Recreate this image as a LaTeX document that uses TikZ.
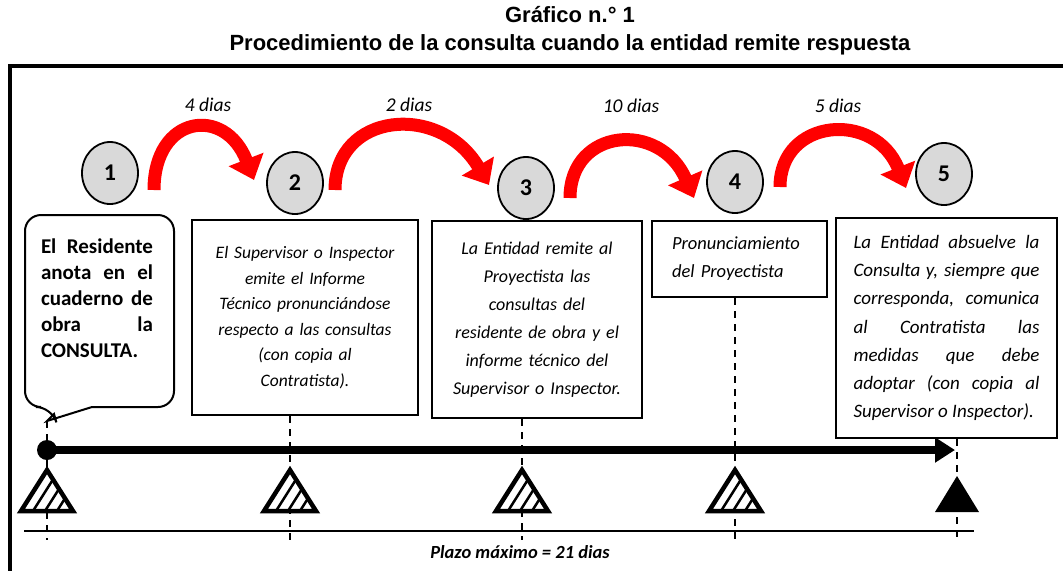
\documentclass[tikz,border=0pt]{standalone}
\usepackage{fontspec}
\setmainfont{Carlito}
\newfontfamily\titlefont{Liberation Sans}
\usetikzlibrary{arrows.meta,shapes.geometric}
\definecolor{stepgray}{HTML}{D9D9D9}
\definecolor{dayred}{HTML}{FF0000}
\hyphenpenalty=10000
\exhyphenpenalty=10000

\begin{document}
\begin{tikzpicture}[x=1pt, y=-1pt, line join=miter,
    stepnode/.style={ellipse, draw=black, line width=1.8pt, fill=stepgray, minimum width=56pt, minimum height=62pt, inner sep=0pt, font=\fontsize{24}{28}\selectfont\bfseries},
    daylabel/.style={font=\fontsize{19.5}{22}\selectfont\itshape},
    dayarrow/.style={draw=dayred, line width=13pt, -{Triangle[length=22pt, width=36pt]}},
    guide/.style={draw=black, line width=2pt, dash pattern=on 7pt off 6pt}]
            \useasboundingbox (0,0) rectangle (1063,571);
            \draw[line width=4pt] (1063,66) -- (10,66) -- (10,571);
            \begin{scope}[every node/.style={anchor=base, font=\titlefont\fontsize{22}{26}\selectfont\bfseries}]
            \node (title1) at (570,22) {Gráfico n.° 1};
            \node (title2) at (570,50) {Procedimiento de la consulta cuando la entidad remite respuesta};
            \end{scope}
            \begin{scope}[every node/.style={stepnode}]
            \node (c1) at (110,173) {1};
            \node (c2) at (295,183) {2};
            \node (c3) at (526,188) {3};
            \node (c4) at (735,182) {4};
            \node (c5) at (944,174) {5};
            \end{scope}
            \begin{scope}[every node/.style={daylabel}]
            \node (d1) at (208,105) {4 dias};
            \node (d2) at (409,105) {2 dias};
            \node (d3) at (631,106) {10 dias};
            \node (d4) at (838,106) {5 dias};
            \end{scope}
            \coordinate (t1) at (154,190); \coordinate (h1) at (254,180);
            \coordinate (t2) at (335,190); \coordinate (h2) at (489,185);
            \coordinate (t3) at (570,198); \coordinate (h3) at (694,198);
            \coordinate (t4) at (780,187); \coordinate (h4) at (906,188);
            \draw[dayarrow] (t1) .. controls (154,115) and (225,105) .. (h1);
            \draw[dayarrow] (t2) .. controls (335,112) and (440,102) .. (h2);
            \draw[dayarrow] (t3) .. controls (570,128) and (660,120) .. (h3);
            \draw[dayarrow] (t4) .. controls (780,118) and (875,110) .. (h4);
            \coordinate (tip) at (47,421);
            \draw[line width=2pt, rounded corners=16pt] (92,407) -- (174,407) -- (174,215) -- (25,215) -- (25,407) -- (52,407) [sharp corners] -- (54,414) -- (tip) -- cycle;
            \node[text width=112pt, align=justify, inner sep=0pt, font=\fontsize{21}{26}\selectfont\bfseries] (bub) at (97,298) {El Residente\linebreak anota en el\linebreak cuaderno de\linebreak obra la\linebreak CONSULTA.};
            \begin{scope}[every node/.style={draw=black, line width=2pt, inner sep=0pt, align=center}]
            \node[minimum width=226pt, minimum height=195pt, text width=215pt, font=\fontsize{17.5}{25.5}\selectfont\itshape] (b2) at (305,317.5) {El Supervisor o Inspector\\ emite el Informe\\ Técnico pronunciándose\\ respecto a las consultas\\ (con copia al\\ Contratista).};
            \node[minimum width=210pt, minimum height=197pt, text width=200pt, font=\fontsize{18}{28}\selectfont\itshape] (b3) at (537,319.5) {La Entidad remite al\\ Proyectista las\\ consultas del\\ residente de obra y el\\ informe técnico del\\ Supervisor o Inspector.};
            \node[minimum width=175pt, minimum height=76pt, text width=135pt, align=left, font=\fontsize{18.5}{28}\selectfont\itshape] (b4) at (739.5,259) {Pronunciamiento\\ del Proyectista};
            \node[minimum width=221pt, minimum height=220pt, text width=186pt, align=justify, font=\fontsize{19}{28.3}\selectfont\itshape] (b5) at (946.5,328) {La Entidad absuelve la\linebreak Consulta y, siempre que\linebreak corresponda, comunica\linebreak al Contratista las\linebreak medidas que debe\linebreak adoptar (con copia al\linebreak Supervisor o Inspector).};
            \end{scope}
            \coordinate (k1) at (47,540);
            \coordinate (k2) at (290,540);
            \coordinate (k3) at (522,540);
            \coordinate (k4) at (735,540);
            \coordinate (k5) at (957,540);
            \draw[guide] (tip) -- (k1);
            \draw[guide] (b2.south -| k2) -- (k2);
            \draw[guide] (b3.south -| k3) -- (k3);
            \draw[guide] (b4.south -| k4) -- (k4);
            \draw[guide] (b5.south -| k5) -- (k5);
            \draw[line width=1.5pt] (24,531) -- (974,531);
            \node[circle, fill=black, minimum size=20pt, inner sep=0pt] (start) at (47,450) {};
            \coordinate (end) at (955,450);
            \draw[line width=8.5pt, -{Triangle[length=20pt, width=24pt]}] (start.center) -- (end);
            \foreach \tx in {47,290,522,735} {
            \begin{scope}
            \clip (\tx,470) -- (\tx-26,511) -- (\tx+26,511) -- cycle;
            \fill[white] (\tx-30,465) rectangle (\tx+30,515);
            \foreach \d in {12,24,36}
            \draw[line width=2.5pt] (\tx-26+\d,511) -- ++(30,-47.3);
            \end{scope}
            \draw[line width=4.5pt] (\tx,470) -- (\tx-26,511) -- (\tx+26,511) -- cycle;
            }
            \fill (957,476) -- (935,512) -- (979,512) -- cycle;
            \node[font=\fontsize{18.5}{22}\selectfont\bfseries\itshape] (plazo) at (520,552) {Plazo máximo = 21 dias};
\end{tikzpicture}
\end{document}
